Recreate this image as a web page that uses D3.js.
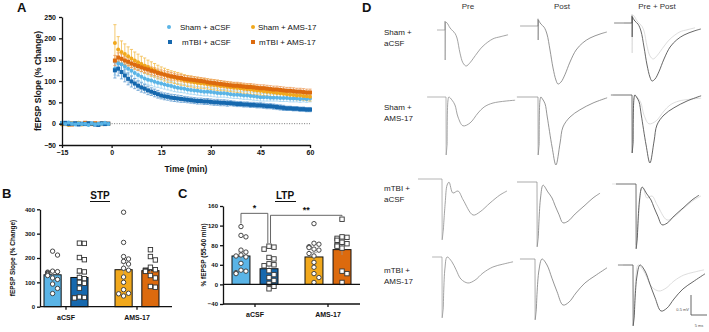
<!DOCTYPE html>
<html>
<head>
<meta charset="utf-8">
<script src="https://cdn.jsdelivr.net/npm/d3@7"></script>
<style>
body { margin: 0; background: #fff; }
svg { display: block; font-family: Arial, "Liberation Sans", sans-serif; }
</style>
</head>
<body>
<svg id="fig" width="709" height="332"></svg>
<script>
// ---------- data ----------
const groups = ["Sham + aCSF", "Sham + AMS-17", "mTBI + aCSF", "mTBI + AMS-17"];
const colors = { "Sham + aCSF": "#5ab4e6", "mTBI + aCSF": "#1668ae", "Sham + AMS-17": "#f1a81c", "mTBI + AMS-17": "#dc6a0e" };
const errColors = { "Sham + aCSF": "#9fd3f1", "mTBI + aCSF": "#5f9bd0", "Sham + AMS-17": "#f3bb4a", "mTBI + AMS-17": "#ec9a58" };

// panel A: time course, baseline (-15..-1 min) and post-HFS (1..60 min)
const baseTimes = d3.range(-15, 0);
const postTimes = d3.range(1, 61);

const shamAcsfBase = [2, -1, 3, 0, -2, 1, -1, 0, -3, 1, -2, 0, -1, 2, -1];
const mtbiAcsfBase = [1, 2, -1, 0, 1, -2, 0, -1, 1, 0, -2, -3, 1, -1, 0];
const shamAmsBase = [-2, 0, -3, 1, -1, 2, -2, 0, 1, -1, 0, -2, 1, 0, -1];
const mtbiAmsBase = [0, -1, 1, -2, 0, 1, -1, 2, 0, -1, 1, 0, -1, 1, 0];

const shamAcsfPost = [129, 141, 139, 134, 129, 124, 119, 114, 110, 106, 103, 101, 98, 96, 94, 92, 90, 88, 86, 84,
  83, 82, 80, 79, 78, 77, 76, 75, 75, 74, 73, 72, 71, 71, 70, 69, 68, 68, 67, 66,
  66, 65, 64, 63, 62, 62, 62, 61, 61, 61, 60, 60, 60, 59, 59, 59, 58, 59, 58, 59];
const mtbiAcsfPost = [125, 129, 121, 113, 105, 99, 94, 89, 85, 82, 78, 75, 72, 69, 66, 64, 63, 61, 60, 59,
  58, 57, 56, 55, 54, 53, 53, 52, 52, 51, 50, 50, 49, 49, 48, 48, 47, 46, 46, 45,
  45, 44, 44, 43, 43, 42, 41, 41, 40, 39, 38, 37, 36, 36, 35, 35, 34, 34, 33, 33];
const shamAmsPost = [189, 174, 168, 163, 158, 153, 148, 144, 140, 136, 132, 128, 125, 121, 118, 115, 112, 110, 108, 106,
  104, 102, 100, 99, 97, 96, 95, 94, 93, 92, 91, 90, 89, 88, 87, 86, 85, 84, 83, 82,
  81, 80, 79, 78, 77, 76, 75, 74, 73, 72, 71, 70, 69, 68, 67, 66, 66, 65, 64, 63];
const mtbiAmsPost = [148, 155, 152, 148, 145, 141, 138, 135, 132, 129, 127, 124, 122, 119, 117, 115, 113, 111, 110, 108,
  107, 105, 104, 103, 102, 101, 100, 99, 97, 96, 95, 94, 93, 92, 91, 90, 89, 89, 88, 87,
  86, 86, 85, 84, 83, 83, 82, 81, 80, 80, 79, 78, 77, 77, 76, 75, 75, 74, 73, 73];

const shamAcsfSem = [15, 16, 15, 14, 14, 13, 13, 13, 12, 12, 12, 12, 12, 11, 11, 11, 11, 11, 11, 10,
  10, 10, 10, 10, 10, 10, 10, 10, 10, 10, 10, 10, 9, 9, 9, 9, 9, 9, 9, 9,
  9, 9, 9, 9, 9, 9, 9, 8, 8, 8, 8, 8, 8, 8, 8, 8, 8, 8, 8, 8];
const mtbiAcsfSem = [18, 17, 16, 15, 14, 13, 12, 11, 11, 10, 10, 9, 9, 9, 8, 8, 8, 8, 8, 8,
  8, 7, 7, 7, 7, 7, 7, 7, 7, 7, 7, 7, 7, 7, 7, 6, 6, 6, 6, 6,
  6, 6, 6, 6, 6, 6, 6, 6, 6, 6, 6, 6, 5, 5, 5, 5, 5, 5, 5, 5];
const shamAmsSem = [43, 30, 26, 24, 22, 21, 20, 19, 18, 18, 17, 17, 16, 16, 15, 15, 15, 14, 14, 14,
  14, 13, 13, 13, 13, 13, 12, 12, 12, 12, 12, 12, 12, 11, 11, 11, 11, 11, 11, 11,
  11, 11, 11, 10, 10, 10, 10, 10, 10, 10, 10, 10, 10, 10, 10, 10, 10, 10, 10, 10];
const mtbiAmsSem = [12, 11, 11, 10, 10, 10, 10, 10, 10, 9, 9, 9, 9, 9, 9, 9, 9, 9, 8, 8,
  8, 8, 8, 8, 8, 8, 8, 8, 8, 8, 8, 8, 8, 8, 8, 8, 8, 8, 8, 8,
  8, 8, 8, 8, 8, 8, 8, 8, 8, 8, 8, 8, 8, 8, 8, 8, 8, 8, 8, 8];

const yTicksA = [-50, 0, 50, 100, 150, 200, 250];
const xTicksA = [-15, 0, 15, 30, 45, 60];

// panel B: STP
const categories = ["aCSF", "AMS-17"];
const stpMeans = [131, 120, 152, 148];
const stpSem = [13, 17, 27, 13];
const stpShamAcsf = [228, 212, 146, 144, 142, 139, 136, 133, 128, 118, 112, 93, 75, 54];
const stpMtbiAcsf = [261, 260, 202, 193, 147, 143, 120, 115, 100, 96, 76, 40, 38, 37, 36];
const stpShamAms = [388, 264, 206, 196, 186, 175, 158, 150, 122, 100, 70, 55, 53, 44];
const stpMtbiAms = [234, 206, 192, 162, 152, 150, 148, 145, 128, 118, 83, 80];
const yTicksB = [0, 100, 200, 300, 400];

// panel C: LTP
const ltpMeans = [58, 32, 56, 71];
const ltpSem = [8, 7, 9, 11];
const ltpShamAcsf = [118, 100, 97, 70, 66, 60, 58, 56, 43, 29, 27, 24, 22];
const ltpMtbiAcsf = [78, 76, 72, 55, 52, 42, 40, 38, 28, 20, 14, 8, 2, -4, -9];
const ltpShamAms = [124, 84, 82, 77, 75, 72, 70, 63, 58, 45, 35, 22, 14, 4];
const ltpMtbiAms = [133, 97, 96, 94, 90, 86, 83, 80, 78, 74, 27, 22, 4];
const yTicksC = [-40, 0, 40, 80, 120, 160];
const ltpStats = [
  { from: "Sham + aCSF", to: "mTBI + aCSF", label: "*", level: 145 },
  { from: "mTBI + aCSF", to: "mTBI + AMS-17", label: "**", level: 141 }
];

// panel D: representative fEPSP traces (time ms, amplitude mV); spike = baseline + stimulus artifact
const traceCols = ["Pre", "Post", "Pre + Post"];
const traceRows = [["Sham +", "aCSF"], ["Sham +", "AMS-17"], ["mTBI +", "aCSF"], ["mTBI +", "AMS-17"]];

const shamAcsfPreSpike = [[-2.5, 0], [0, 0], [0, 0.22], [0.05, -0.75], [0.15, 0.2]];
const shamAcsfPreWave = [[0.15, 0.2], [0.6, 0.18], [1.6, 0.05], [2.5, -0.03], [3.1, -0.08], [3.75, -0.2], [4.7, -0.58],
  [5.6, -0.82], [6.6, -0.9], [7.8, -0.82], [8.75, -0.72], [10.3, -0.55], [11.9, -0.4], [15, -0.22], [17.2, -0.17], [19.7, -0.12]];
const shamAcsfPostSpike = [[-5.6, 0], [0, 0], [0, 0.18], [0.05, -0.35], [0.15, 0.15]];
const shamAcsfPostWave = [[0.15, 0.15], [0.9, 0.05], [1.9, -0.03], [2.8, -0.2], [3.75, -0.6], [4.7, -1.05], [5.6, -1.35],
  [6.25, -1.45], [7.2, -1.4], [8.4, -1.22], [10, -0.9], [11.9, -0.6], [14, -0.42], [16.25, -0.3], [19.4, -0.2], [21.5, -0.15]];

const shamAmsPreSpike = [[-5.9, 0], [0, 0], [0.05, -1.45], [0.35, -1.2]];
const shamAmsPreWave = [[0.35, -1.2], [0.6, -0.1], [0.9, 0], [1.9, -0.08], [2.8, -0.2], [3.75, -0.5], [5.3, -0.72],
  [7.5, -0.65], [10, -0.4], [11.9, -0.25], [14.7, -0.15], [21.6, -0.08]];
const shamAmsPostSpike = [[-6.6, 0], [0, 0], [0.05, -1.45], [0.35, -1.2]];
const shamAmsPostWave = [[0.35, -1.2], [0.6, -0.1], [0.9, 0], [1.4, -0.05], [2.2, -0.17], [2.9, -0.5], [4.4, -1.25],
  [5.6, -1.7], [6.9, -1.15], [7.8, -0.75], [10, -0.5], [13.1, -0.32], [17.2, -0.15], [21.6, -0.02]];

const mtbiAcsfPreSpike = [[-7.5, 0], [0, 0], [0.05, -1.52], [0.4, -1.3]];
const mtbiAcsfPreWave = [[0.4, -1.3], [1.0, -0.6], [1.6, -0.15], [2.2, -0.08], [3.4, -0.35], [5, -0.3], [6.6, -0.52],
  [9.7, -0.9], [11.9, -0.82], [15, -0.6], [18.1, -0.4], [20.3, -0.3]];
const mtbiAcsfPostSpike = [[-6.25, 0], [0, 0], [0.05, -1.62], [0.4, -1.4]];
const mtbiAcsfPostWave = [[0.4, -1.4], [1.1, -0.4], [1.9, -0.08], [3.4, -0.25], [4.7, -0.4], [5.6, -0.58], [6.9, -0.82],
  [8.1, -1.02], [9.7, -0.98], [11.9, -0.8], [15, -0.58], [17.5, -0.4], [19.7, -0.28]];

const mtbiAmsPreSpike = [[-3.1, 0], [0, 0], [0.05, -1.52], [0.4, -1.3]];
const mtbiAmsPreWave = [[0.4, -1.3], [0.9, -0.3], [1.6, 0], [3.1, -0.12], [4.4, -0.32], [5.9, -0.55], [8.1, -0.65],
  [10.3, -0.58], [12.8, -0.4], [15.9, -0.25], [19, -0.18], [22.2, -0.12]];
const mtbiAmsPostSpike = [[-4.7, 0], [0, 0], [0.05, -1.52], [0.4, -1.3]];
const mtbiAmsPostWave = [[0.4, -1.3], [1.2, -0.3], [2.2, 0], [3.75, -0.15], [5.3, -0.48], [6.9, -0.82], [8.75, -1.15],
  [10.6, -1.08], [12.8, -0.85], [15.6, -0.6], [18.75, -0.42], [22.5, -0.22]];

// ---------- helpers ----------
const svg = d3.select("#fig");
const BOLD = "bold";

function text(x, y, str, size, opts = {}) {
  return svg.append("text")
    .attr("x", x).attr("y", y)
    .attr("font-size", size)
    .attr("font-weight", opts.weight || "normal")
    .attr("text-anchor", opts.anchor || "start")
    .attr("fill", opts.fill || "#111")
    .text(str);
}

function styleAxis(g, size) {
  g.selectAll("path, line").attr("stroke", "#111").attr("stroke-width", 1.3);
  g.selectAll("text").attr("font-size", size).attr("font-weight", BOLD).attr("fill", "#111")
    .attr("font-family", "Arial, 'Liberation Sans', sans-serif");
}

function marker(sel, group, size) {
  if (group.startsWith("Sham")) {
    sel.append("circle").attr("r", size / 2);
  } else {
    sel.append("rect").attr("x", -size / 2).attr("y", -size / 2).attr("width", size).attr("height", size);
  }
}

// ---------- panel A ----------
const xA = d3.scaleLinear().domain([-15, 60]).range([62, 310]);
const yA = d3.scaleLinear().domain([-50, 250]).range([145, 17]);

text(17, 12, "A", 13, { weight: BOLD });

svg.append("line")
  .attr("x1", xA(0)).attr("x2", xA(60))
  .attr("y1", yA(0)).attr("y2", yA(0))
  .attr("stroke", "#555").attr("stroke-width", 0.8).attr("stroke-dasharray", "1,1.5");

const seriesA = [
  { group: "Sham + aCSF", base: shamAcsfBase, post: shamAcsfPost, sem: shamAcsfSem },
  { group: "mTBI + aCSF", base: mtbiAcsfBase, post: mtbiAcsfPost, sem: mtbiAcsfSem },
  { group: "Sham + AMS-17", base: shamAmsBase, post: shamAmsPost, sem: shamAmsSem },
  { group: "mTBI + AMS-17", base: mtbiAmsBase, post: mtbiAmsPost, sem: mtbiAmsSem }
];

seriesA.forEach(s => {
  const g = svg.append("g").attr("stroke", errColors[s.group]).attr("stroke-width", 0.8);
  s.post.forEach((v, i) => {
    const x = xA(postTimes[i]);
    g.append("line").attr("x1", x).attr("x2", x).attr("y1", yA(v - s.sem[i])).attr("y2", yA(v + s.sem[i]));
    g.append("line").attr("x1", x - 1.6).attr("x2", x + 1.6).attr("y1", yA(v + s.sem[i])).attr("y2", yA(v + s.sem[i]));
    g.append("line").attr("x1", x - 1.6).attr("x2", x + 1.6).attr("y1", yA(v - s.sem[i])).attr("y2", yA(v - s.sem[i]));
  });
});

// post-HFS markers
seriesA.forEach(s => {
  const g = svg.append("g").attr("fill", colors[s.group]);
  s.post.forEach((v, i) => {
    const m = g.append("g").attr("transform", `translate(${xA(postTimes[i])},${yA(v)})`);
    marker(m, s.group, 4);
  });
});
// baseline markers (Sham + aCSF ends up on top, as in the figure)
seriesA.slice().reverse().forEach(s => {
  const g = svg.append("g").attr("fill", colors[s.group]);
  s.base.forEach((v, i) => {
    const m = g.append("g").attr("transform", `translate(${xA(baseTimes[i])},${yA(v)})`);
    marker(m, s.group, 4);
  });
});

const axYA = svg.append("g").attr("transform", `translate(${xA(-15)},0)`)
  .call(d3.axisLeft(yA).tickValues(yTicksA).tickSize(3).tickSizeOuter(0).tickPadding(3));
styleAxis(axYA, 7);
const axXA = svg.append("g").attr("transform", `translate(0,${yA(-50)})`)
  .call(d3.axisBottom(xA).tickValues(xTicksA).tickSize(3).tickSizeOuter(0).tickPadding(2));
styleAxis(axXA, 7);

text(186, 172, "Time (min)", 8.5, { weight: BOLD, anchor: "middle" });
svg.append("text")
  .attr("transform", "translate(41,81) rotate(-90)")
  .attr("text-anchor", "middle").attr("font-size", 8.5).attr("font-weight", BOLD).attr("fill", "#111")
  .text("fEPSP Slope (% Change)");

// legend
const legendA = [
  { group: "Sham + aCSF", mx: 169, tx: 180, y: 27 },
  { group: "Sham + AMS-17", mx: 253, tx: 258, y: 27 },
  { group: "mTBI + aCSF", mx: 170, tx: 182, y: 42 },
  { group: "mTBI + AMS-17", mx: 253, tx: 259, y: 42 }
];
legendA.forEach(l => {
  const m = svg.append("g").attr("transform", `translate(${l.mx},${l.y})`).attr("fill", colors[l.group]);
  marker(m, l.group, 4);
  text(l.tx, l.y + 3, l.group, 8);
});

// ---------- bar panels (B, C) ----------
function dodge(values, y, r, half) {
  const pts = values.map(v => ({ v, y: y(v), x: 0 })).sort((a, b) => a.y - b.y);
  const placed = [];
  const step = r * 2.15;
  pts.forEach(p => {
    for (let k = 0; k < 30; k++) {
      const off = k === 0 ? 0 : (k % 2 ? 1 : -1) * Math.ceil(k / 2) * step;
      if (Math.abs(off) > half) continue;
      const hit = placed.some(q => (q.x - off) ** 2 + (q.y - p.y) ** 2 < (2 * r) ** 2);
      if (!hit) { p.x = off; break; }
      p.x = off;
    }
    placed.push(p);
  });
  return pts;
}

function barPanel(cfg) {
  const { x0, x1, yScale, centers, means, sems, points, ticks, tickSize } = cfg;
  const xCat = d3.scalePoint().domain(categories).range(centers);
  const xSub = d3.scaleBand().domain(["Sham", "mTBI"]).range([-cfg.half, cfg.half]).paddingInner(0.36);
  const order = [["aCSF", "Sham", "Sham + aCSF"], ["aCSF", "mTBI", "mTBI + aCSF"],
    ["AMS-17", "Sham", "Sham + AMS-17"], ["AMS-17", "mTBI", "mTBI + AMS-17"]];
  const y0 = yScale(Math.max(0, yScale.domain()[0]));
  const pos = {};
  order.forEach(([cat, sub, group], i) => {
    const bx = xCat(cat) + xSub(sub);
    const bw = xSub.bandwidth();
    pos[group] = { cx: bx + bw / 2, max: d3.max(points[i]) };
    svg.append("rect")
      .attr("x", bx).attr("width", bw)
      .attr("y", Math.min(yScale(means[i]), y0))
      .attr("height", Math.abs(y0 - yScale(means[i])))
      .attr("fill", colors[group]).attr("stroke", "#111").attr("stroke-width", 1);
    const eg = svg.append("g").attr("stroke", "#999").attr("stroke-width", 0.7);
    const cx = bx + bw / 2;
    eg.append("line").attr("x1", cx).attr("x2", cx).attr("y1", yScale(means[i] - sems[i])).attr("y2", yScale(means[i] + sems[i]));
    eg.append("line").attr("x1", cx - 3).attr("x2", cx + 3).attr("y1", yScale(means[i] + sems[i])).attr("y2", yScale(means[i] + sems[i]));
    const pg = svg.append("g").attr("fill", "#fff").attr("stroke", "#333").attr("stroke-width", 0.9);
    dodge(points[i], yScale, 2.3, bw / 2 - 1).forEach(p => {
      const m = pg.append("g").attr("transform", `translate(${cx + p.x},${p.y})`);
      marker(m, group, 4.4);
    });
  });
  const ay = svg.append("g").attr("transform", `translate(${x0},0)`)
    .call(d3.axisLeft(yScale).tickValues(ticks).tickSize(3).tickSizeOuter(0).tickPadding(2));
  styleAxis(ay, tickSize);
  const yb = yScale(yScale.domain()[0]);
  svg.append("line").attr("x1", x0).attr("x2", x1).attr("y1", yb).attr("y2", yb).attr("stroke", "#111").attr("stroke-width", 1.3);
  categories.forEach(c => {
    svg.append("line").attr("x1", xCat(c)).attr("x2", xCat(c)).attr("y1", yb).attr("y2", yb + 3)
      .attr("stroke", "#111").attr("stroke-width", 1.3);
    text(xCat(c), yb + 13, c, 7, { weight: BOLD, anchor: "middle" });
  });
  return pos;
}

// panel B
const yB = d3.scaleLinear().domain([0, 400]).range([306.7, 209.3]);
text(2, 198, "B", 13, { weight: BOLD });
text(100, 199, "STP", 10, { weight: BOLD, anchor: "middle" });
svg.append("line").attr("x1", 90).attr("x2", 110).attr("y1", 201.5).attr("y2", 201.5).attr("stroke", "#111").attr("stroke-width", 1);
svg.append("text")
  .attr("transform", `translate(15,${(yB(0) + yB(400)) / 2}) rotate(-90)`)
  .attr("text-anchor", "middle").attr("font-size", 6.5).attr("font-weight", BOLD).attr("fill", "#111")
  .text("fEPSP Slope (% Change)");
barPanel({
  x0: 40, x1: 172, yScale: yB, centers: [66, 137], half: 22,
  means: stpMeans, sems: stpSem, points: [stpShamAcsf, stpMtbiAcsf, stpShamAms, stpMtbiAms],
  ticks: yTicksB, tickSize: 6
});

// panel C
const yC = d3.scaleLinear().domain([-40, 160]).range([304, 206]);
text(178, 198, "C", 13, { weight: BOLD });
text(285, 199, "LTP", 10, { weight: BOLD, anchor: "middle" });
svg.append("line").attr("x1", 275).attr("x2", 296).attr("y1", 201.5).attr("y2", 201.5).attr("stroke", "#111").attr("stroke-width", 1);
svg.append("text")
  .attr("transform", `translate(206,${(yC(-40) + yC(160)) / 2}) rotate(-90)`)
  .attr("text-anchor", "middle").attr("font-size", 6.5).attr("font-weight", BOLD).attr("fill", "#111")
  .text("% fEPSP (55-60 min)");
const posC = barPanel({
  x0: 223, x1: 360, yScale: yC, centers: [255, 328], half: 23,
  means: ltpMeans, sems: ltpSem, points: [ltpShamAcsf, ltpMtbiAcsf, ltpShamAms, ltpMtbiAms],
  ticks: yTicksC, tickSize: 6
});
svg.append("line").attr("x1", 223).attr("x2", 360).attr("y1", yC(0)).attr("y2", yC(0)).attr("stroke", "#111").attr("stroke-width", 1.2);

ltpStats.forEach((s, i) => {
  const a = posC[s.from], b = posC[s.to];
  const xa = a.cx + (i === 1 ? 1.5 : 0), xb = b.cx - (i === 0 ? 1.2 : 0);
  const yl = yC(s.level);
  svg.append("path")
    .attr("d", `M${xa},${yC(a.max) - 3}V${yl}H${xb}V${yC(b.max) - 3}`)
    .attr("fill", "none").attr("stroke", "#555").attr("stroke-width", 0.9);
  text((xa + xb) / 2, yl - 2, s.label, 9, { weight: BOLD, anchor: "middle" });
});

// ---------- panel D ----------
text(362, 12, "D", 13, { weight: BOLD });
const colCenters = [468, 562, 657];
traceCols.forEach((c, i) => text(colCenters[i], 9, c, 8, { anchor: "middle", fill: "#333" }));
const rowLabelY = [35, 110, 191, 273];
traceRows.forEach((r, i) => {
  text(384, rowLabelY[i], r[0], 8, { fill: "#222" });
  text(384, rowLabelY[i] + 11, r[1], 8, { fill: "#222" });
});

const traceSets = [
  { pre: [shamAcsfPreSpike, shamAcsfPreWave], post: [shamAcsfPostSpike, shamAcsfPostWave] },
  { pre: [shamAmsPreSpike, shamAmsPreWave], post: [shamAmsPostSpike, shamAmsPostWave] },
  { pre: [mtbiAcsfPreSpike, mtbiAcsfPreWave], post: [mtbiAcsfPostSpike, mtbiAcsfPostWave] },
  { pre: [mtbiAmsPreSpike, mtbiAmsPreWave], post: [mtbiAmsPostSpike, mtbiAmsPostWave] }
];
// artifact x / baseline y of each cell
const cellOrigins = [
  [[445, 30], [538, 26], [632, 23]],
  [[446, 97], [538, 97], [632, 95]],
  [[442, 179], [537, 182], [636, 184]],
  [[442, 257], [535, 259], [633, 265]]
];
const msPx = 16 / 5, mvPx = 20 / 0.5;

function drawTrace(origin, trace, color, width) {
  const x = d3.scaleLinear().domain([0, 5]).range([origin[0], origin[0] + 5 * msPx]);
  const y = d3.scaleLinear().domain([0, -0.5]).range([origin[1], origin[1] + 0.5 * mvPx]);
  const lin = d3.line().x(d => x(d[0])).y(d => y(d[1]));
  const smooth = d3.line().x(d => x(d[0])).y(d => y(d[1])).curve(d3.curveCatmullRom.alpha(0.5));
  svg.append("path").attr("d", lin(trace[0])).attr("fill", "none").attr("stroke", color).attr("stroke-width", width * 0.8);
  svg.append("path").attr("d", smooth(trace[1])).attr("fill", "none").attr("stroke", color).attr("stroke-width", width);
}

traceSets.forEach((set, r) => {
  drawTrace(cellOrigins[r][0], set.pre, "#8c8c8c", 0.8);
  drawTrace(cellOrigins[r][1], set.post, "#7a7a7a", 0.8);
  drawTrace(cellOrigins[r][2], set.pre, "#d4d4d4", 0.8);
  drawTrace(cellOrigins[r][2], set.post, "#4a4a4a", 0.85);
});

// scale bar
const sbX = d3.scaleLinear().domain([0, 5]).range([691, 691 + 5 * msPx]);
const sbY = d3.scaleLinear().domain([0, 0.5]).range([315, 315 - 0.5 * mvPx]);
svg.append("path")
  .attr("d", `M${sbX(0)},${sbY(0.5)}V${sbY(0)}H${sbX(5)}`)
  .attr("fill", "none").attr("stroke", "#555").attr("stroke-width", 0.9);
text(sbX(0) - 2, sbY(0.1), "0.5 mV", 4, { anchor: "end", fill: "#555" });
text((sbX(0) + sbX(5)) / 2, 327, "5 ms", 4, { anchor: "middle", fill: "#555" });
</script>
</body>
</html>
